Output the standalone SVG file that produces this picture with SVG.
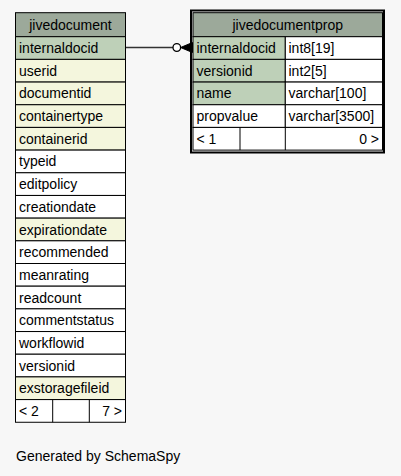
<svg xmlns="http://www.w3.org/2000/svg" width="401" height="476" viewBox="0 0 401 476">
<style>
text{font-family:"Liberation Sans",Arial,sans-serif;font-size:14px;fill:#000}
.c{stroke:#000;stroke-width:1}
.h{fill:#9ca99a}
.pk{fill:#bed0b8}
.ix{fill:#f4f6dd}
.w{fill:#ffffff}
.m{text-anchor:middle}
.e{text-anchor:end}
</style>
<rect width="401" height="476" fill="#f7f7f7"/>
<g id="connectors">
<line x1="125.5" y1="47.5" x2="173" y2="47.5" stroke="#333" stroke-width="1.3"/>
<circle cx="176.8" cy="47.5" r="3.8" fill="#fff" stroke="#000" stroke-width="1.3"/>
<path d="M180.6,47.5 L192.5,42.5 L192.5,52.5 Z" fill="#000" stroke="#000" stroke-width="1"/>
</g>
<g id="jivedocument">
<rect class="c h" x="15.5" y="12.7" width="110" height="24"/>
<text class="m" x="70.5" y="29.5">jivedocument</text>
<rect class="c pk" x="15.5" y="36.7" width="110" height="22.68"/>
<text x="19" y="53">internaldocid</text>
<rect class="c ix" x="15.5" y="59.38" width="110" height="22.68"/>
<text x="19" y="75.7">userid</text>
<rect class="c ix" x="15.5" y="82.06" width="110" height="22.68"/>
<text x="19" y="98.4">documentid</text>
<rect class="c ix" x="15.5" y="104.74" width="110" height="22.68"/>
<text x="19" y="121.1">containertype</text>
<rect class="c ix" x="15.5" y="127.42" width="110" height="22.68"/>
<text x="19" y="143.7">containerid</text>
<rect class="c w" x="15.5" y="150.1" width="110" height="22.68"/>
<text x="19" y="166.4">typeid</text>
<rect class="c w" x="15.5" y="172.78" width="110" height="22.68"/>
<text x="19" y="189.1">editpolicy</text>
<rect class="c w" x="15.5" y="195.46" width="110" height="22.68"/>
<text x="19" y="211.8">creationdate</text>
<rect class="c ix" x="15.5" y="218.14" width="110" height="22.68"/>
<text x="19" y="234.5">expirationdate</text>
<rect class="c w" x="15.5" y="240.82" width="110" height="22.68"/>
<text x="19" y="257.1">recommended</text>
<rect class="c w" x="15.5" y="263.5" width="110" height="22.68"/>
<text x="19" y="279.8">meanrating</text>
<rect class="c w" x="15.5" y="286.18" width="110" height="22.68"/>
<text x="19" y="302.5">readcount</text>
<rect class="c w" x="15.5" y="308.86" width="110" height="22.68"/>
<text x="19" y="325.2">commentstatus</text>
<rect class="c w" x="15.5" y="331.54" width="110" height="22.68"/>
<text x="19" y="347.9">workflowid</text>
<rect class="c w" x="15.5" y="354.22" width="110" height="22.68"/>
<text x="19" y="370.5">versionid</text>
<rect class="c ix" x="15.5" y="376.9" width="110" height="22.68"/>
<text x="19" y="393.2">exstoragefileid</text>
<rect class="c w" x="15.5" y="399.58" width="110" height="22.68"/>
<line class="c" x1="52.7" y1="399.58" x2="52.7" y2="422.26"/>
<line class="c" x1="89.3" y1="399.58" x2="89.3" y2="422.26"/>
<text x="19" y="415.9">&lt; 2</text>
<text class="e" x="122" y="415.9">7 &gt;</text>
</g>
<g id="jivedocumentprop">
<rect x="191" y="10.5" width="193" height="142" fill="none" stroke="#000" stroke-width="2"/>
<rect class="c h" x="193" y="12.7" width="189.5" height="24"/>
<text class="m" x="287.7" y="29.5">jivedocumentprop</text>
<rect class="c pk" x="193" y="36.7" width="92.3" height="22.68"/>
<rect class="c w" x="285.3" y="36.7" width="97.2" height="22.68"/>
<text x="196.5" y="53">internaldocid</text>
<text x="288.5" y="53">int8[19]</text>
<rect class="c pk" x="193" y="59.38" width="92.3" height="22.68"/>
<rect class="c w" x="285.3" y="59.38" width="97.2" height="22.68"/>
<text x="196.5" y="75.7">versionid</text>
<text x="288.5" y="75.7">int2[5]</text>
<rect class="c pk" x="193" y="82.06" width="92.3" height="22.68"/>
<rect class="c w" x="285.3" y="82.06" width="97.2" height="22.68"/>
<text x="196.5" y="98.4">name</text>
<text x="288.5" y="98.4">varchar[100]</text>
<rect class="c w" x="193" y="104.74" width="92.3" height="22.68"/>
<rect class="c w" x="285.3" y="104.74" width="97.2" height="22.68"/>
<text x="196.5" y="121.1">propvalue</text>
<text x="288.5" y="121.1">varchar[3500]</text>
<rect class="c w" x="193" y="127.42" width="189.5" height="22.68"/>
<line class="c" x1="240" y1="127.42" x2="240" y2="150.1"/>
<line class="c" x1="285.3" y1="127.42" x2="285.3" y2="150.1"/>
<text x="196.5" y="143.7">&lt; 1</text>
<text class="e" x="379" y="143.7">0 &gt;</text>
</g>
<text x="16" y="461">Generated by SchemaSpy</text>
</svg>
